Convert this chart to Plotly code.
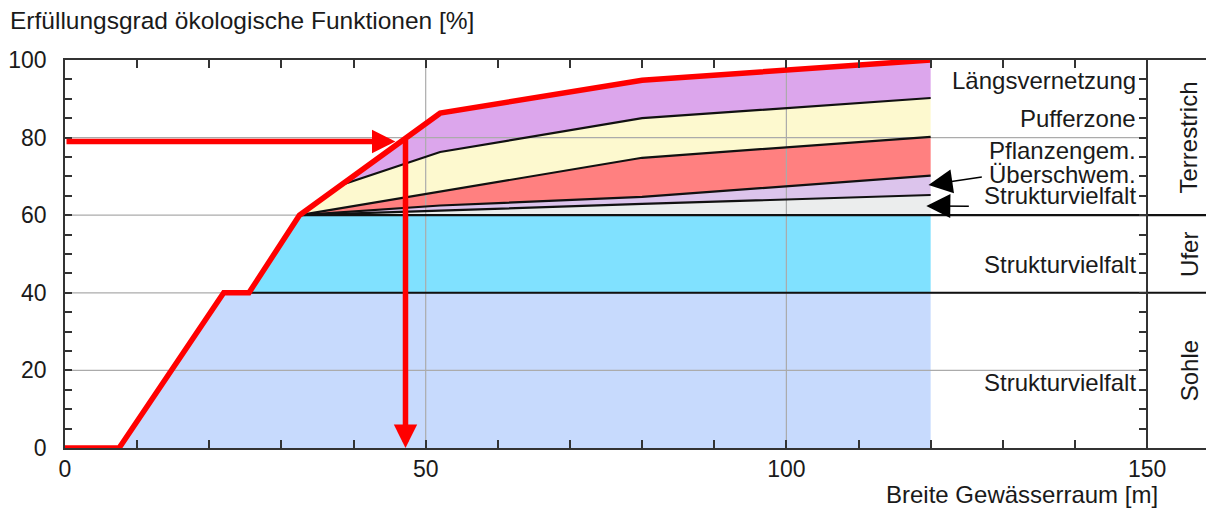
import plotly.graph_objects as go

# Breite Gewaesserraum vs. Erfuellungsgrad
x_red = [0, 7.5, 22, 25.5, 32.5, 52, 80, 120]
y_red = [0, 0, 40, 40, 60, 86.3, 94.8, 100]

# Sohle / Ufer blocks
sohle_x = [7.5, 120, 120, 22]
sohle_y = [0, 0, 40, 40]
ufer_x = [25.5, 120, 120, 32.5]
ufer_y = [40, 40, 60, 60]

# terrestrial layers, upper boundary of each
x_terr = [32.5, 38.2, 52, 80, 120]
top_struktur = [60, 60.35, 61.3, 62.9, 65.2]
top_ueberschw = [60, 60.7, 62.5, 64.7, 70.2]
top_pflanzen = [60, 61.8, 66.0, 74.8, 80.2]
top_puffer = [60, 67.7, 76.3, 85.0, 90.2]
top_laengs = [60, 67.7, 86.3, 94.8, 100]
base_terr = [60, 60, 60, 60, 60]

layer_colors = ["#ebeded", "#dcc4ec", "#ff8080", "#fdf9cf", "#dca6ec"]

labels = ["Längsvernetzung", "Pufferzone", "Pflanzengem.", "Überschwem.",
          "Strukturvielfalt", "Strukturvielfalt", "Strukturvielfalt"]
label_y = [94.8, 84.8, 76.8, 70.6, 65, 47.2, 16.8]
zones = ["Terrestrich", "Ufer", "Sohle"]
zone_y = [80, 50, 20]

grid_y = [20, 40, 60, 80]
grid_x = [50, 100]

# example reading: 79 % -> about 47 m
read_y = 79
read_x = 47.2

X_MAX = 159
FONT = "Liberation Sans, Arial, sans-serif"
TXT = "#1a1a1a"
FS = 24

fig = go.Figure()

fig.add_trace(go.Scatter(x=sohle_x, y=sohle_y, fill="toself", fillcolor="#c7dafd",
                         mode="none", hoverinfo="skip"))
fig.add_trace(go.Scatter(x=ufer_x, y=ufer_y, fill="toself", fillcolor="#80e1ff",
                         mode="none", hoverinfo="skip"))

bounds = [base_terr, top_struktur, top_ueberschw, top_pflanzen, top_puffer, top_laengs]
for lo, hi, col in zip(bounds[:-1], bounds[1:], layer_colors):
    fig.add_trace(go.Scatter(x=x_terr + x_terr[::-1], y=lo + hi[::-1], fill="toself",
                             fillcolor=col, mode="none", hoverinfo="skip"))

# grid
for gy in grid_y:
    fig.add_trace(go.Scatter(x=[0, 150], y=[gy, gy], mode="lines",
                             line=dict(color="#ababab", width=1.2), hoverinfo="skip"))
for gx in grid_x:
    fig.add_trace(go.Scatter(x=[gx, gx], y=[0, 100], mode="lines",
                             line=dict(color="#ababab", width=1.2), hoverinfo="skip"))

# separators
fig.add_trace(go.Scatter(x=[25.5, X_MAX], y=[40, 40], mode="lines",
                         line=dict(color="#111", width=2), hoverinfo="skip"))
fig.add_trace(go.Scatter(x=[32.5, X_MAX], y=[60, 60], mode="lines",
                         line=dict(color="#111", width=2.2), hoverinfo="skip"))
for top in [top_struktur, top_ueberschw, top_pflanzen, top_puffer]:
    fig.add_trace(go.Scatter(x=x_terr, y=top, mode="lines",
                             line=dict(color="#111", width=2.2), hoverinfo="skip"))

fig.add_trace(go.Scatter(x=x_red, y=y_red, mode="lines",
                         line=dict(color="#ff0000", width=5.5), hoverinfo="skip"))

# dummy trace so the x=150 axis gets drawn
fig.add_trace(go.Scatter(x=[150], y=[0], yaxis="y2", mode="markers",
                         marker=dict(opacity=0), hoverinfo="skip"))

# red reading arrows
fig.add_annotation(x=read_x - 1.4, y=read_y, ax=0, ay=read_y, xref="x", yref="y",
                   axref="x", ayref="y", text="", showarrow=True, arrowhead=2,
                   arrowsize=0.85, arrowwidth=5.5, arrowcolor="#ff0000", standoff=0)
fig.add_annotation(x=read_x, y=0, ax=read_x, ay=read_y + 0.8, xref="x", yref="y",
                   axref="x", ayref="y", text="", showarrow=True, arrowhead=2,
                   arrowsize=0.85, arrowwidth=5.5, arrowcolor="#ff0000", standoff=0)

# small black arrows to the thin layers
fig.add_annotation(x=119.7, y=67.8, ax=127.3, ay=69.9, xref="x", yref="y",
                   axref="x", ayref="y", text="", showarrow=True, arrowhead=2,
                   arrowsize=3, arrowwidth=1.6, arrowcolor="#000", standoff=0)
fig.add_annotation(x=119.4, y=62.4, ax=125.5, ay=62.3, xref="x", yref="y",
                   axref="x", ayref="y", text="", showarrow=True, arrowhead=2,
                   arrowsize=3, arrowwidth=1.6, arrowcolor="#000", standoff=0)

for txt, ly in zip(labels, label_y):
    fig.add_annotation(x=148.8, y=ly, xref="x", yref="y", text=txt, showarrow=False,
                       xanchor="right", yanchor="middle", font=dict(size=FS, color=TXT))
for txt, zy in zip(zones, zone_y):
    fig.add_annotation(x=155.8, y=zy, xref="x", yref="y", text=txt, showarrow=False,
                       textangle=-90, font=dict(size=FS, color=TXT))

fig.add_annotation(x=-57 / 1147, y=1.103, xref="paper", yref="paper",
                   text="Erfüllungsgrad ökologische Funktionen [%]", showarrow=False,
                   xanchor="left", yanchor="middle", font=dict(size=24.5, color=TXT))
fig.add_annotation(x=0.9547, y=-0.121, xref="paper", yref="paper",
                   text="Breite Gewässerraum [m]", showarrow=False,
                   xanchor="right", yanchor="middle", font=dict(size=FS, color=TXT))

# page body has an 8px margin, so the figure is a bit smaller and shifted
fig.update_layout(
    width=1206, height=503,
    margin=dict(l=57, r=2, t=52, b=63, autoexpand=False),
    paper_bgcolor="white", plot_bgcolor="white",
    showlegend=False,
    font=dict(family=FONT, size=FS, color=TXT),
    xaxis=dict(range=[0, X_MAX], tickvals=[0, 50, 100, 150], showgrid=False,
               zeroline=False, showline=True, linecolor="#333", linewidth=1.5,
               mirror="ticks", ticks="inside", ticklen=8, tickwidth=1.5, tickcolor="#333",
               minor=dict(dtick=10, ticks="inside", ticklen=8, tickwidth=1.5,
                          tickcolor="#333", showgrid=False),
               automargin=False, tickfont=dict(size=23, color=TXT)),
    yaxis=dict(range=[0, 100], tickvals=[0, 20, 40, 60, 80, 100], showgrid=False,
               zeroline=False, showline=True, linecolor="#333", linewidth=1.5,
               ticks="inside", ticklen=7, tickwidth=1.5, tickcolor="#333",
               minor=dict(dtick=5, ticks="inside", ticklen=7, tickwidth=1.5,
                          tickcolor="#333", showgrid=False),
               automargin=False, ticklabelstandoff=12, tickfont=dict(size=23, color=TXT)),
    yaxis2=dict(range=[0, 100], overlaying="y", anchor="free", side="right",
                position=150 / X_MAX, showgrid=False, zeroline=False, showline=True,
                linecolor="#333", linewidth=1.5, ticks="inside", ticklen=7,
                tickwidth=1.5, tickcolor="#333", dtick=5, showticklabels=False,
                automargin=False, autoshift=False),
)

fig.write_html("out.html")
